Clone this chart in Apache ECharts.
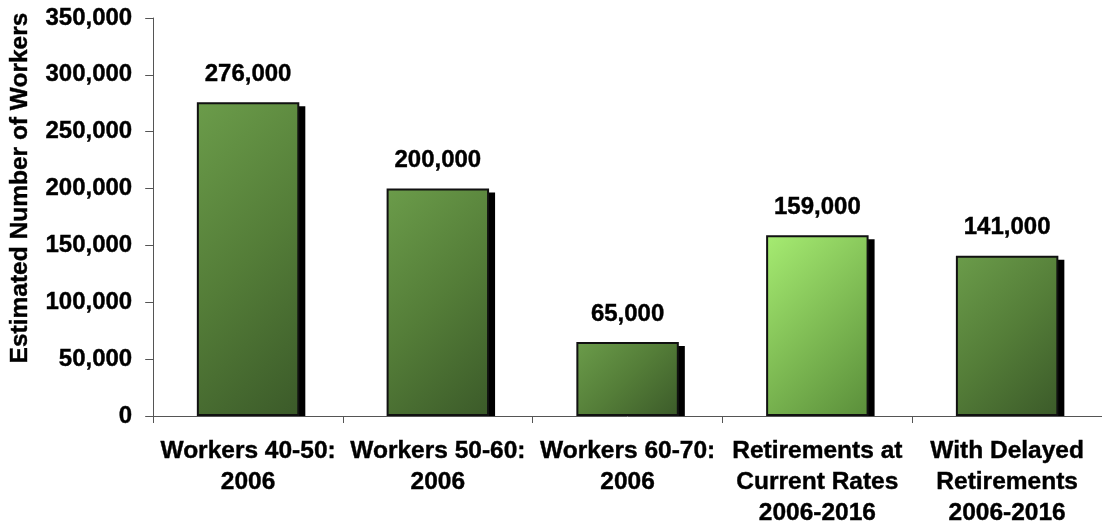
<!DOCTYPE html>
<html>
<head>
<meta charset="utf-8">
<script src="https://cdn.jsdelivr.net/npm/echarts@6/dist/echarts.min.js"></script>
<style>
  html, body { margin: 0; padding: 0; background: #ffffff; }
  #chart { width: 1102px; height: 529px; }
</style>
</head>
<body>
<div id="chart"></div>
<script>
// Workforce estimates
const categories = [
  'Workers 40-50:\n2006',
  'Workers 50-60:\n2006',
  'Workers 60-70:\n2006',
  'Retirements at\nCurrent Rates\n2006-2016',
  'With Delayed\nRetirements\n2006-2016'
];
const workers = [276000, 200000, 65000, 159000, 141000];
const highlighted = [false, false, false, true, false];
const yTicks = [0, 50000, 100000, 150000, 200000, 250000, 300000, 350000];

const FONT = '"Liberation Sans", Arial, sans-serif';
const BAR_FRACTION = 0.54;

// slightly heavier strokes so the bold text reads dense
const heavy = { textBorderColor: '#000000', textBorderWidth: 0.4 };

function fmt(v) {
  return v.toLocaleString('en-US');
}

// 45-degree diagonal gradient, light at top-left, dark at bottom-right,
// expressed in the bar's own box (w x h pixels)
function barFill(light, w, h) {
  const s = (w + h) / 2;
  const stops = light
    ? [{ offset: 0, color: '#a6ec72' }, { offset: 0.5, color: '#80bd55' }, { offset: 1, color: '#5a8e3a' }]
    : [{ offset: 0, color: '#6b9c4a' }, { offset: 0.5, color: '#547d38' }, { offset: 1, color: '#3b5a29' }];
  return new echarts.graphic.LinearGradient(0, 0, s / w, s / h, stops);
}

const chart = echarts.init(document.getElementById('chart'), null, { renderer: 'canvas' });

chart.setOption({
  animation: false,
  backgroundColor: '#ffffff',
  grid: { left: 150, top: 18, width: 958, bottom: 111, containLabel: false },
  xAxis: {
    type: 'category',
    data: categories,
    axisLine: { lineStyle: { color: '#555555', width: 1 } },
    axisTick: { show: true, length: 7, lineStyle: { color: '#555555' } },
    axisLabel: Object.assign({
      interval: 0,
      margin: 20,
      color: '#000000',
      fontFamily: FONT,
      fontWeight: 'bold',
      fontSize: 24.5,
      lineHeight: 31,
      align: 'center'
    }, heavy)
  },
  yAxis: {
    type: 'value',
    min: yTicks[0],
    max: yTicks[yTicks.length - 1],
    interval: yTicks[1] - yTicks[0],
    name: 'Estimated Number of Workers',
    nameLocation: 'middle',
    nameGap: 120,
    nameRotate: 90,
    nameTextStyle: Object.assign({
      color: '#000000',
      fontFamily: FONT,
      fontWeight: 'bold',
      fontSize: 24.5,
      padding: [0, 0, 0, 58]
    }, heavy),
    axisLine: { show: true, lineStyle: { color: '#555555', width: 1 } },
    axisTick: { show: true, length: 8, lineStyle: { color: '#555555' } },
    splitLine: { show: false },
    axisLabel: Object.assign({
      margin: 21,
      color: '#000000',
      fontFamily: FONT,
      fontWeight: 'bold',
      fontSize: 24,
      formatter: fmt
    }, heavy)
  },
  series: [
    {
      // drop shadow behind each bar, offset right and down, cut at the baseline
      type: 'custom',
      z: 1,
      silent: true,
      data: workers.map((v, i) => [i, v]),
      renderItem: function (params, api) {
        const top = api.coord([api.value(0), api.value(1)]);
        const base = api.coord([api.value(0), 0]);
        const w = api.size([1, 0])[0] * BAR_FRACTION;
        return {
          type: 'rect',
          shape: {
            x: top[0] - w / 2 + 6,
            y: top[1] + 4,
            width: w,
            height: base[1] - top[1] - 4
          },
          style: { fill: '#000000' }
        };
      }
    },
    {
      id: 'bars',
      type: 'bar',
      z: 2,
      barWidth: (BAR_FRACTION * 100) + '%',
      data: workers.map(v => v),
      itemStyle: { color: '#557e37', borderColor: '#111111', borderWidth: 2 },
      label: Object.assign({
        show: true,
        position: 'top',
        distance: 16,
        color: '#000000',
        fontFamily: FONT,
        fontWeight: 'bold',
        fontSize: 24,
        formatter: p => fmt(p.value)
      }, heavy)
    }
  ]
});

// once the axes exist, size each bar's gradient from its pixel box
const catWidth = chart.convertToPixel({ xAxisIndex: 0 }, 1) - chart.convertToPixel({ xAxisIndex: 0 }, 0);
const baseY = chart.convertToPixel({ yAxisIndex: 0 }, 0);
chart.setOption({
  series: [{
    id: 'bars',
    data: workers.map((v, i) => {
      const h = baseY - chart.convertToPixel({ yAxisIndex: 0 }, v);
      return { value: v, itemStyle: { color: barFill(highlighted[i], catWidth * BAR_FRACTION, h) } };
    })
  }]
});
</script>
</body>
</html>
